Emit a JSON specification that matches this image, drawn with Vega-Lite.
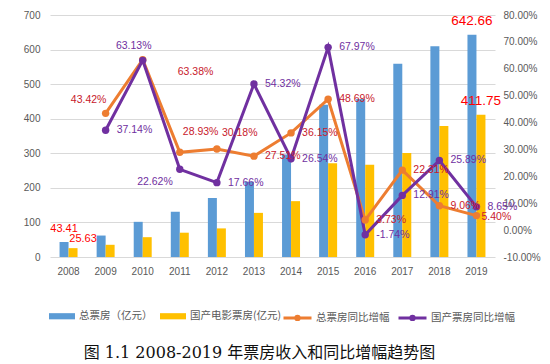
{
  "$schema": "https://vega.github.io/schema/vega-lite/v6.json",
  "width": 445,
  "height": 242,
  "autosize": {"type": "none"},
  "padding": {"left": 50, "top": 15, "right": 55, "bottom": 107},
  "background": "white",
  "config": {
    "view": {"stroke": null},
    "locale": {"number": {"decimal": ".", "thousands": ",", "grouping": [3], "currency": ["$", ""], "minus": "-"}},
    "axis": {"labelFont": "Liberation Sans", "labelFontSize": 10, "labelColor": "#595959", "domain": false, "ticks": false, "tickSize": 0, "grid": false},
    "legend": {"labelFont": "Noto Sans CJK SC", "labelFontSize": 10.5, "labelColor": "#595959", "title": null}
  },
  "datasets": {
    "bars": [
      {"year": "2008", "series": "总票房（亿元）", "value": 43.41},
      {"year": "2008", "series": "国产电影票房(亿元)", "value": 25.63},
      {"year": "2009", "series": "总票房（亿元）", "value": 62.06},
      {"year": "2009", "series": "国产电影票房(亿元)", "value": 35.31},
      {"year": "2010", "series": "总票房（亿元）", "value": 101.72},
      {"year": "2010", "series": "国产电影票房(亿元)", "value": 57.34},
      {"year": "2011", "series": "总票房（亿元）", "value": 131.15},
      {"year": "2011", "series": "国产电影票房(亿元)", "value": 70.31},
      {"year": "2012", "series": "总票房（亿元）", "value": 170.73},
      {"year": "2012", "series": "国产电影票房(亿元)", "value": 82.73},
      {"year": "2013", "series": "总票房（亿元）", "value": 217.69},
      {"year": "2013", "series": "国产电影票房(亿元)", "value": 127.67},
      {"year": "2014", "series": "总票房（亿元）", "value": 296.39},
      {"year": "2014", "series": "国产电影票房(亿元)", "value": 161.55},
      {"year": "2015", "series": "总票房（亿元）", "value": 440.69},
      {"year": "2015", "series": "国产电影票房(亿元)", "value": 271.36},
      {"year": "2016", "series": "总票房（亿元）", "value": 457.12},
      {"year": "2016", "series": "国产电影票房(亿元)", "value": 266.63},
      {"year": "2017", "series": "总票房（亿元）", "value": 559.11},
      {"year": "2017", "series": "国产电影票房(亿元)", "value": 301.04},
      {"year": "2018", "series": "总票房（亿元）", "value": 609.76},
      {"year": "2018", "series": "国产电影票房(亿元)", "value": 378.97},
      {"year": "2019", "series": "总票房（亿元）", "value": 642.66},
      {"year": "2019", "series": "国产电影票房(亿元)", "value": 411.75}
    ],
    "growth": [
      {"year": "2009", "series": "总票房同比增幅", "value": 0.4342},
      {"year": "2010", "series": "总票房同比增幅", "value": 0.6338},
      {"year": "2011", "series": "总票房同比增幅", "value": 0.2893},
      {"year": "2012", "series": "总票房同比增幅", "value": 0.3018},
      {"year": "2013", "series": "总票房同比增幅", "value": 0.2751},
      {"year": "2014", "series": "总票房同比增幅", "value": 0.3615},
      {"year": "2015", "series": "总票房同比增幅", "value": 0.4869},
      {"year": "2016", "series": "总票房同比增幅", "value": 0.0373},
      {"year": "2017", "series": "总票房同比增幅", "value": 0.2231},
      {"year": "2018", "series": "总票房同比增幅", "value": 0.0906},
      {"year": "2019", "series": "总票房同比增幅", "value": 0.054},
      {"year": "2009", "series": "国产票房同比增幅", "value": 0.3714},
      {"year": "2010", "series": "国产票房同比增幅", "value": 0.6313},
      {"year": "2011", "series": "国产票房同比增幅", "value": 0.2262},
      {"year": "2012", "series": "国产票房同比增幅", "value": 0.1766},
      {"year": "2013", "series": "国产票房同比增幅", "value": 0.5432},
      {"year": "2014", "series": "国产票房同比增幅", "value": 0.2654},
      {"year": "2015", "series": "国产票房同比增幅", "value": 0.6797},
      {"year": "2016", "series": "国产票房同比增幅", "value": -0.0174},
      {"year": "2017", "series": "国产票房同比增幅", "value": 0.1291},
      {"year": "2018", "series": "国产票房同比增幅", "value": 0.2589},
      {"year": "2019", "series": "国产票房同比增幅", "value": 0.0865}
    ]
  },
  "encoding": {
    "x": {"field": "year", "type": "ordinal", "scale": {"paddingInner": 0.515, "paddingOuter": 0.2575},
      "axis": {"labelAngle": 0, "labelPadding": 9, "title": "图 1.1 2008-2019 年票房收入和同比增幅趋势图", "titleFont": "DejaVu Serif, Noto Sans CJK SC", "titleFontSize": 16, "titleFontWeight": "normal", "titleColor": "#111111", "titleX": 209, "titleY": 95, "titleAlign": "center", "titleBaseline": "middle", "titleAngle": 0}}
  },
  "layer": [
    {
      "data": {"name": "bars"},
      "encoding": {
        "y": {"field": "value", "type": "quantitative", "scale": {"domain": [0, 700], "nice": false}, "axis": {"title": null, "values": [0, 100, 200, 300, 400, 500, 600, 700], "grid": true, "gridColor": "#D9D9D9", "labelPadding": 10}}
      },
      "layer": [
        {
          "mark": {"type": "bar"},
          "encoding": {
            "xOffset": {"field": "series", "type": "nominal", "sort": ["总票房（亿元）", "国产电影票房(亿元)"], "scale": {"paddingInner": 0, "paddingOuter": 0}},
            "fill": {"field": "series", "type": "nominal", "sort": ["总票房（亿元）", "国产电影票房(亿元)"], "scale": {"domain": ["总票房（亿元）", "国产电影票房(亿元)"], "range": ["#5B9BD5", "#FFC000"]},
              "legend": {"orient": "none", "legendX": -2, "legendY": 287, "direction": "horizontal", "symbolType": "M-0.93,-0.22H0.93V0.22H-0.93Z", "symbolSize": 784, "symbolStrokeWidth": 0, "labelOffset": 3, "columnPadding": 6}}
          }
        },
        {
          "transform": [{"filter": "datum.year == '2008' && datum.series == '总票房（亿元）'"}],
          "mark": {"type": "text", "font": "Liberation Sans", "fontSize": 11, "color": "#FF0000", "baseline": "middle", "dy": -13},
          "encoding": {
            "xOffset": {"field": "series", "type": "nominal", "sort": ["总票房（亿元）", "国产电影票房(亿元)"]},
            "text": {"field": "value", "type": "quantitative", "format": ".2f"}
          }
        },
        {
          "transform": [{"filter": "datum.year == '2008' && datum.series == '国产电影票房(亿元)'"}],
          "mark": {"type": "text", "font": "Liberation Sans", "fontSize": 11, "color": "#FF0000", "baseline": "middle", "dy": -9, "dx": 10},
          "encoding": {
            "xOffset": {"field": "series", "type": "nominal", "sort": ["总票房（亿元）", "国产电影票房(亿元)"]},
            "text": {"field": "value", "type": "quantitative", "format": ".2f"}
          }
        },
        {
          "transform": [{"filter": "datum.year == '2019'"}],
          "mark": {"type": "text", "font": "Liberation Sans", "fontSize": 13.5, "color": "#FF0000", "baseline": "middle", "dy": -14},
          "encoding": {
            "xOffset": {"field": "series", "type": "nominal", "sort": ["总票房（亿元）", "国产电影票房(亿元)"]},
            "text": {"field": "value", "type": "quantitative", "format": ".2f"}
          }
        }
      ]
    },
    {
      "data": {"name": "growth"},
      "transform": [{"calculate": "replace(format(datum.value, '.2%'), '\u2212', '-')", "as": "label"}],
      "encoding": {
        "y": {"field": "value", "type": "quantitative", "scale": {"domain": [-0.1, 0.8], "nice": false}, "axis": {"title": null, "orient": "right", "values": [-0.1, 0, 0.1, 0.2, 0.3, 0.4, 0.5, 0.6, 0.7, 0.8], "labelExpr": "replace(format(datum.value, '.2%'), '\u2212', '-')", "labelPadding": 8}}
      },
      "layer": [
        {
          "mark": {"type": "line", "strokeWidth": 3},
          "encoding": {
            "stroke": {"field": "series", "type": "nominal", "sort": ["总票房同比增幅", "国产票房同比增幅"], "scale": {"domain": ["总票房同比增幅", "国产票房同比增幅"], "range": ["#ED7D31", "#7030A0"]},
              "legend": {"orient": "none", "legendX": 232, "legendY": 287, "direction": "horizontal", "symbolType": "M-1,0H1M-0.12,0A0.12,0.12 0 1,1 0.12,0A0.12,0.12 0 1,1 -0.12,0", "symbolSize": 784, "symbolStrokeWidth": 3, "labelOffset": 3, "columnPadding": 2}},
            "detail": {"field": "series", "type": "nominal"}
          }
        },
        {
          "mark": {"type": "point", "filled": true, "size": 55, "opacity": 1},
          "encoding": {
            "color": {"field": "series", "type": "nominal", "scale": {"domain": ["总票房同比增幅", "国产票房同比增幅"], "range": ["#ED7D31", "#7030A0"]}, "legend": null}
          }
        },
        {
          "transform": [{"filter": "datum.series == '总票房同比增幅' && datum.year != '2009' && datum.year != '2010' && datum.year != '2011' && datum.year != '2012' && datum.year != '2019'"}],
          "mark": {"type": "text", "font": "Liberation Sans", "fontSize": 10.5, "align": "left", "baseline": "middle", "dx": 11, "color": "#C8202C"},
          "encoding": {"text": {"field": "label", "type": "nominal"}}
        },
        {
          "transform": [{"filter": "datum.series == '国产票房同比增幅' && datum.year != '2010' && datum.year != '2011'"}],
          "mark": {"type": "text", "font": "Liberation Sans", "fontSize": 10.5, "align": "left", "baseline": "middle", "dx": 11, "color": "#7030A0"},
          "encoding": {"text": {"field": "label", "type": "nominal"}}
        },
        {
          "transform": [{"filter": "datum.series == '总票房同比增幅' && datum.year == '2009'"}],
          "mark": {"type": "text", "font": "Liberation Sans", "fontSize": 10.5, "align": "center", "baseline": "middle", "dx": -17, "dy": -13, "color": "#C8202C"},
          "encoding": {"text": {"field": "label", "type": "nominal"}}
        },
        {
          "transform": [{"filter": "datum.series == '总票房同比增幅' && datum.year == '2010'"}],
          "mark": {"type": "text", "font": "Liberation Sans", "fontSize": 10.5, "align": "left", "baseline": "middle", "dx": 35, "dy": 12, "color": "#C8202C"},
          "encoding": {"text": {"field": "label", "type": "nominal"}}
        },
        {
          "transform": [{"filter": "datum.series == '总票房同比增幅' && datum.year == '2011'"}],
          "mark": {"type": "text", "font": "Liberation Sans", "fontSize": 10.5, "align": "left", "baseline": "middle", "dx": 3, "dy": -20, "color": "#C8202C"},
          "encoding": {"text": {"field": "label", "type": "nominal"}}
        },
        {
          "transform": [{"filter": "datum.series == '总票房同比增幅' && datum.year == '2012'"}],
          "mark": {"type": "text", "font": "Liberation Sans", "fontSize": 10.5, "align": "left", "baseline": "middle", "dx": 5, "dy": -16, "color": "#C8202C"},
          "encoding": {"text": {"field": "label", "type": "nominal"}}
        },
        {
          "transform": [{"filter": "datum.series == '总票房同比增幅' && datum.year == '2019'"}],
          "mark": {"type": "text", "font": "Liberation Sans", "fontSize": 10.5, "align": "left", "baseline": "middle", "dx": 5, "dy": 1, "color": "#C8202C"},
          "encoding": {"text": {"field": "label", "type": "nominal"}}
        },
        {
          "transform": [{"filter": "datum.series == '国产票房同比增幅' && datum.year == '2010'"}],
          "mark": {"type": "text", "font": "Liberation Sans", "fontSize": 10.5, "align": "center", "baseline": "middle", "dx": -9, "dy": -14, "color": "#7030A0"},
          "encoding": {"text": {"field": "label", "type": "nominal"}}
        },
        {
          "transform": [{"filter": "datum.series == '国产票房同比增幅' && datum.year == '2011'"}],
          "mark": {"type": "text", "font": "Liberation Sans", "fontSize": 10.5, "align": "right", "baseline": "middle", "dx": -7, "dy": 13, "color": "#7030A0"},
          "encoding": {"text": {"field": "label", "type": "nominal"}}
        }
      ]
    }
  ],
  "resolve": {"scale": {"y": "independent"}}
}
